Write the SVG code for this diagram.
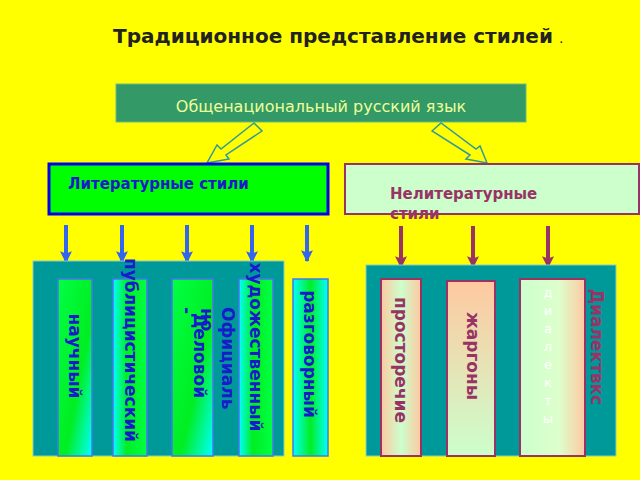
<svg xmlns="http://www.w3.org/2000/svg" width="640" height="480" viewBox="0 0 640 480">
<defs>
<linearGradient id="g1" x1="0" y1="0" x2="1" y2="0"><stop offset="0" stop-color="#00ffff"/><stop offset="0.5" stop-color="#00ee22"/><stop offset="1" stop-color="#00ffff"/></linearGradient>
<linearGradient id="g2" x1="0" y1="0" x2="1" y2="1"><stop offset="0" stop-color="#00ff44"/><stop offset="0.6" stop-color="#00ee22"/><stop offset="1" stop-color="#00ffff"/></linearGradient>
<linearGradient id="g3" x1="0" y1="0" x2="1" y2="0"><stop offset="0" stop-color="#00ffff"/><stop offset="0.4" stop-color="#00ee22"/><stop offset="1" stop-color="#00ff44"/></linearGradient>
<linearGradient id="p1" x1="0" y1="0" x2="1" y2="0"><stop offset="0" stop-color="#ffc8a0"/><stop offset="0.5" stop-color="#ccffcc"/><stop offset="1" stop-color="#ffc8a0"/></linearGradient>
<linearGradient id="p2" x1="0" y1="0" x2="0" y2="1"><stop offset="0" stop-color="#ffc8a0"/><stop offset="1" stop-color="#ccffcc"/></linearGradient>
<linearGradient id="p3" x1="0" y1="0" x2="1" y2="0"><stop offset="0" stop-color="#ccffcc"/><stop offset="0.6" stop-color="#ddffcc"/><stop offset="1" stop-color="#ffc8a0"/></linearGradient>
<marker id="ab" viewBox="0 0 10 10" refX="9" refY="5" markerWidth="3" markerHeight="3" orient="auto"><path d="M0,0 L10,5 L0,10 L2,5 Z" fill="#3366ee"/></marker>
<marker id="am" viewBox="0 0 10 10" refX="9" refY="5" markerWidth="3" markerHeight="3" orient="auto"><path d="M0,0 L10,5 L0,10 L2,5 Z" fill="#993366"/></marker>
</defs>
<style>
.t{font-family:"DejaVu Sans","Noto Sans",sans-serif}
.b{font-weight:bold}
.vb{font-family:"DejaVu Sans",sans-serif;font-weight:bold;font-size:17px;fill:#1a1acc}
.vm{font-family:"DejaVu Sans",sans-serif;font-weight:bold;font-size:17px;fill:#993366}
.blue{stroke:#3366ee;stroke-width:4;marker-end:url(#ab)}
.mar{stroke:#993366;stroke-width:4;marker-end:url(#am)}
.col{stroke:#4477ee;stroke-width:1.5}
.colm{stroke:#993366;stroke-width:2}
</style>
<rect width="640" height="480" fill="#ffff00"/>
<text class="t b" x="338" y="43" font-size="20" text-anchor="middle" fill="#222">Традиционное представление  стилей <tspan font-size="8">.</tspan></text>
<g id="root"><rect x="116" y="84" width="410" height="38" fill="#339966" stroke="#66bb88"/><text class="t" x="321" y="112" font-size="16" text-anchor="middle" fill="#eeff99">Общенациональный  русский  язык</text></g>
<g id="connectors" fill="#ffff00" stroke="#339999" stroke-width="1.5">
<polygon points="254,123 262,131 226,155 229,159 207,163 217,145 221,149"/>
<polygon points="432,131 441,123 476,149 480,146 487,163 466,159 470,155"/>
<line class="blue" x1="66" y1="225" x2="66" y2="262"/>
<line class="blue" x1="122" y1="225" x2="122" y2="262"/>
<line class="blue" x1="187" y1="225" x2="187" y2="262"/>
<line class="blue" x1="252" y1="225" x2="252" y2="262"/>
<line class="blue" x1="307" y1="225" x2="307" y2="261"/>
<line class="mar" x1="401" y1="226" x2="401" y2="267"/>
<line class="mar" x1="473" y1="226" x2="473" y2="267"/>
<line class="mar" x1="548" y1="226" x2="548" y2="267"/>
</g>
<g id="lit"><rect x="49" y="164" width="279" height="50" fill="#00ff00" stroke="#0000ee" stroke-width="3"/><text class="t b" x="68" y="189" font-size="15" fill="#1a1acc">Литературные стили</text></g>
<g id="nonlit"><rect x="345" y="164" width="294" height="50" fill="#ccffcc" stroke="#993366" stroke-width="2"/><text class="t b" x="390" y="199" font-size="15" fill="#993366">Нелитературные</text><text class="t b" x="390" y="219" font-size="15" fill="#993366">стили</text></g>
<rect x="33" y="261" width="251" height="195" fill="#009999" stroke="#88cccc"/>
<rect x="366" y="265" width="250" height="191" fill="#009999" stroke="#88cccc"/>
<g id="n1"><rect class="col" x="58" y="279" width="34" height="177" fill="url(#g2)"/><text class="vb" transform="translate(75,356) rotate(90)" text-anchor="middle" dominant-baseline="central">научный</text></g>
<g id="n2"><rect class="col" x="113" y="279" width="34" height="177" fill="url(#g3)"/><text class="vb" transform="translate(131,350) rotate(90)" text-anchor="middle" dominant-baseline="central">публицистический</text></g>
<g id="n3"><rect class="col" x="172" y="279" width="41" height="177" fill="url(#g2)"/>
<text class="vb" transform="translate(228,307) rotate(90)" dominant-baseline="central">Официаль</text>
<text class="vb" transform="translate(207,308) rotate(90)" dominant-baseline="central">но</text>
<text class="vb" transform="translate(187,307) rotate(90)" dominant-baseline="central">-</text>
<text class="vb" transform="translate(200,313) rotate(90)" dominant-baseline="central">Деловой</text></g>
<g id="n4"><rect class="col" x="239" y="279" width="34" height="177" fill="url(#g3)"/><text class="vb" transform="translate(256,347) rotate(90)" text-anchor="middle" dominant-baseline="central">художественный</text></g>
<g id="n5"><rect class="col" x="293" y="279" width="35" height="177" fill="url(#g1)"/><text class="vb" transform="translate(310,354) rotate(90)" text-anchor="middle" dominant-baseline="central">разговорный</text></g>
<g id="n6"><rect class="colm" x="381" y="279" width="40" height="177" fill="url(#p1)"/><text class="vm" transform="translate(401,360) rotate(90)" text-anchor="middle" dominant-baseline="central">просторечие</text></g>
<g id="n7"><rect class="colm" x="447" y="281" width="48" height="175" fill="url(#p2)"/><text class="vm" transform="translate(473,356) rotate(90)" text-anchor="middle" dominant-baseline="central">жаргоны</text></g>
<g id="n8"><rect class="colm" x="520" y="279" width="65" height="177" fill="url(#p3)"/>
<text class="t" font-size="13" fill="#ffffff" text-anchor="middle"><tspan x="548" y="297">д</tspan><tspan x="548" y="315">и</tspan><tspan x="548" y="333">а</tspan><tspan x="548" y="351">л</tspan><tspan x="548" y="369">е</tspan><tspan x="548" y="387">к</tspan><tspan x="548" y="405">т</tspan><tspan x="548" y="423">ы</tspan></text></g>
<text class="vm" transform="translate(597,347) rotate(90)" text-anchor="middle" dominant-baseline="central">Диалектвкс</text>
</svg>
